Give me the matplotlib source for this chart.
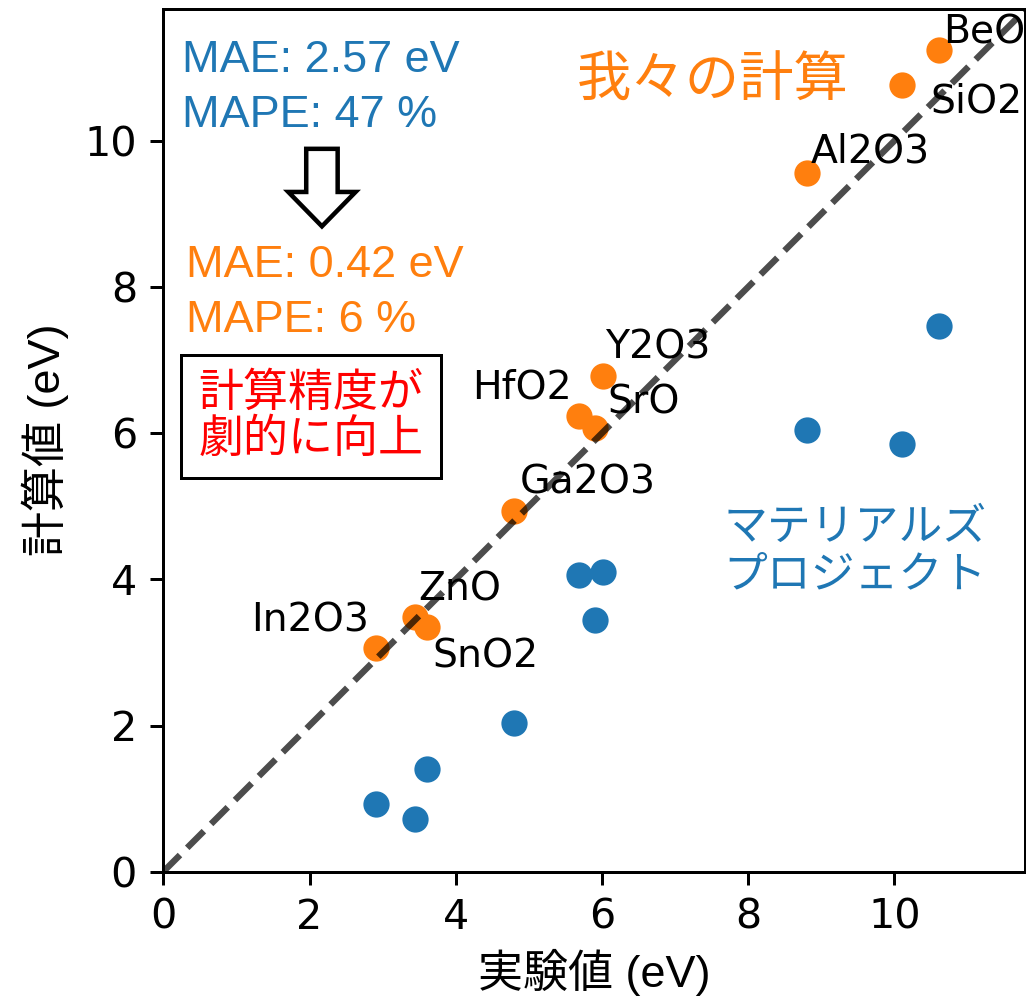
import matplotlib.pyplot as plt

plt.rcParams['font.family'] = ['DejaVu Sans', 'Noto Sans CJK JP']
jp = ['Liberation Sans', 'Noto Sans CJK JP']

# band gaps (eV)
materials = ['In2O3', 'ZnO', 'SnO2', 'Ga2O3', 'HfO2', 'SrO', 'Y2O3', 'Al2O3', 'SiO2', 'BeO']
exp_gap = [2.91, 3.44, 3.61, 4.80, 5.68, 5.91, 6.01, 8.81, 10.10, 10.61]
ours_gap = [3.06, 3.48, 3.35, 4.93, 6.24, 6.07, 6.78, 9.56, 10.77, 11.24]
mp_gap = [0.93, 0.72, 1.40, 2.03, 4.06, 3.44, 4.10, 6.04, 5.85, 7.46]

# label offsets in points (dx, dy, ha)
offsets = {
    'In2O3': (-1.9, 4.3, 'right'),
    'ZnO': (0.8, 4.5, 'left'),
    'SnO2': (1.3, -10.9, 'left'),
    'Ga2O3': (1.6, 4.8, 'left'),
    'HfO2': (-1.9, 4.5, 'right'),
    'SrO': (3.2, 4.0, 'left'),
    'Y2O3': (0.5, 4.8, 'left'),
    'Al2O3': (0.8, 2.9, 'left'),
    'SiO2': (7.7, -7.5, 'left'),
    'BeO': (1.1, 1.9, 'left'),
}

fig = plt.figure(figsize=(1026/270, 1000/270), dpi=270)
ax = fig.add_axes([163.3/1026, 1 - 871.7/1000, (1024.5 - 163.3)/1026, (871.7 - 8.5)/1000])

ax.scatter(exp_gap, mp_gap, color='#1f77b4', zorder=3)
ax.scatter(exp_gap, ours_gap, color='#ff7f0e', zorder=3)
ax.plot([0, 12], [0, 12], '--', color='k', alpha=0.7, lw=1.7, zorder=5)

for name, x, y in zip(materials, exp_gap, ours_gap):
    dx, dy, ha = offsets[name]
    ax.annotate(name, (x, y), xytext=(dx, dy), textcoords='offset points',
                ha=ha, va='baseline', fontsize=10.5)

ax.text(0.25, 11.38, 'MAE: 2.57 eV\nMAPE: 47 %', color='#1f77b4', fontsize=12,
        family=jp, ha='left', va='top', linespacing=1.45)
ax.text(0.31, 8.58, 'MAE: 0.42 eV\nMAPE: 6 %', color='#ff7f0e', fontsize=12,
        family=jp, ha='left', va='top', linespacing=1.45)
ax.arrow(2.17, 9.89, 0, -1.06, width=0.43, head_width=0.92, head_length=0.47,
         length_includes_head=True, fc='white', ec='black', lw=1.2)
ax.text(2.02, 6.23, '計算精度が\n劇的に向上', color='red', fontsize=12, family=jp,
        ha='center', va='center', linespacing=1.1,
        bbox=dict(boxstyle='square,pad=0.38', fc='white', ec='black', lw=0.8))
ax.text(7.52, 10.79, '我々の計算', color='#ff7f0e', fontsize=14.5, family=jp,
        ha='center', va='center')
ax.text(9.46, 4.37, 'マテリアルズ\nプロジェクト', color='#1f77b4', fontsize=11.7,
        family=jp, ha='center', va='center')

ax.set_xlim(0, 11.78)
ax.set_ylim(0, 11.81)
ax.tick_params(labelsize=11)
ax.set_xlabel('実験値 (eV)', fontsize=12, family=jp, labelpad=3)
ax.set_ylabel('計算値 (eV)', fontsize=12, family=jp)

fig.savefig('out.png', dpi=270)
